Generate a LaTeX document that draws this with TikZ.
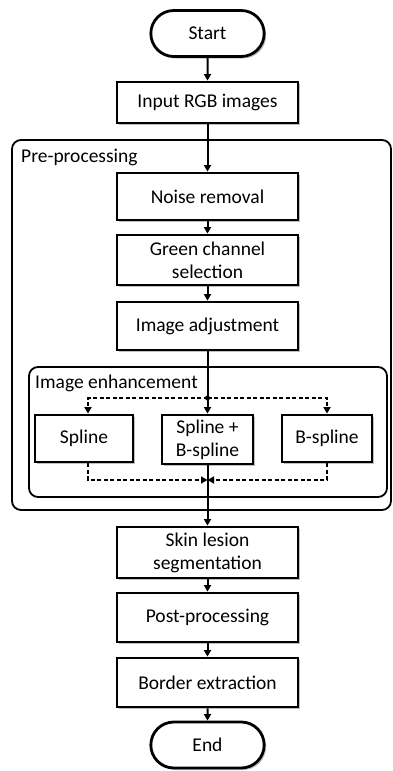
\documentclass[tikz,border=0pt]{standalone}
\usepackage{fontspec}
\setmainfont{Carlito}
\usetikzlibrary{arrows.meta,shapes.misc,shadows}
\begin{document}
\begin{tikzpicture}[x=1pt,y=1pt,
  font=\fontsize{19.5}{23}\selectfont,
  shad/.style={drop shadow={shadow xshift=2pt,shadow yshift=-2pt,fill=black,opacity=0.25}},
  procbox/.style={draw,line width=2.8pt,fill=white,shad,minimum width=181pt,align=center,inner sep=0pt},
  smallbox/.style={draw,line width=2.8pt,fill=white,shad,align=center,inner sep=0pt},
  term/.style={draw,rounded rectangle,line width=2.8pt,fill=white,shad,minimum width=120pt,minimum height=46pt},
  group/.style={draw,line width=1.8pt,rounded corners=9pt},
  arr/.style={line width=2pt,-{Triangle[length=6.5pt,width=7pt]}},
  darr/.style={line width=1.6pt,dashed,dash pattern=on 4pt off 2.5pt,-{Triangle[length=6.5pt,width=7pt]}}
]
\useasboundingbox (0,0) rectangle (392,-771);
\fill[white] (0,0) rectangle (392,-771);

% group boxes
\draw[group] (12,-140) rectangle (391,-510);
\node[anchor=west,inner sep=0pt] (lpre) at (21,-157) {Pre-processing};
\draw[group] (29,-367) rectangle (387,-497);
\node[anchor=west,inner sep=0pt] (lenh) at (35,-383) {Image enhancement};

\node[term] (start) at (207.5,-33.5) {Start};
\node[procbox,minimum height=41pt] (input) at (207.5,-102.5) {Input RGB images};
\node[procbox,minimum height=47pt] (noise) at (207.5,-196.5) {Noise removal};
\node[procbox,minimum height=50pt] (green) at (207.5,-260) {Green channel\\selection};
\node[procbox,minimum height=48pt] (adjust) at (207.5,-326) {Image adjustment};
\node[smallbox,minimum width=98pt,minimum height=47pt] (spline) at (84,-438.5) {Spline};
\node[smallbox,minimum width=91pt,minimum height=49pt] (sb) at (207.5,-439.5) {Spline +\\B-spline};
\node[smallbox,minimum width=90pt,minimum height=47pt] (bspline) at (327,-438.5) {B-spline};
\node[procbox,minimum height=51pt] (skin) at (207.5,-552.5) {Skin lesion\\segmentation};
\node[procbox,minimum height=49pt] (post) at (207.5,-617.5) {Post-processing};
\node[procbox,minimum height=49pt] (border) at (207.5,-682.5) {Border extraction};
\node[term] (end) at (207.5,-745) {End};

\coordinate (j) at (207.5,-398);
\coordinate (m) at (207.5,-480);

\draw[arr] (start) -- (input);
\draw[arr] (input) -- (noise);
\draw[arr] (noise) -- (green);
\draw[arr] (green) -- (adjust);
\draw[arr] (adjust) -- (sb);
\fill (j) circle (2.5pt);
\draw[darr] (j) -| ([xshift=4pt]spline.north);
\draw[darr] (j) -| (bspline.north);
\draw[darr] ([xshift=4pt]spline.south) |- (m);
\draw[darr] (bspline.south) |- (m);
\draw[arr] (sb) -- (skin);
\draw[arr] (skin) -- (post);
\draw[arr] (post) -- (border);
\draw[arr] (border) -- (end);
\end{tikzpicture}
\end{document}
